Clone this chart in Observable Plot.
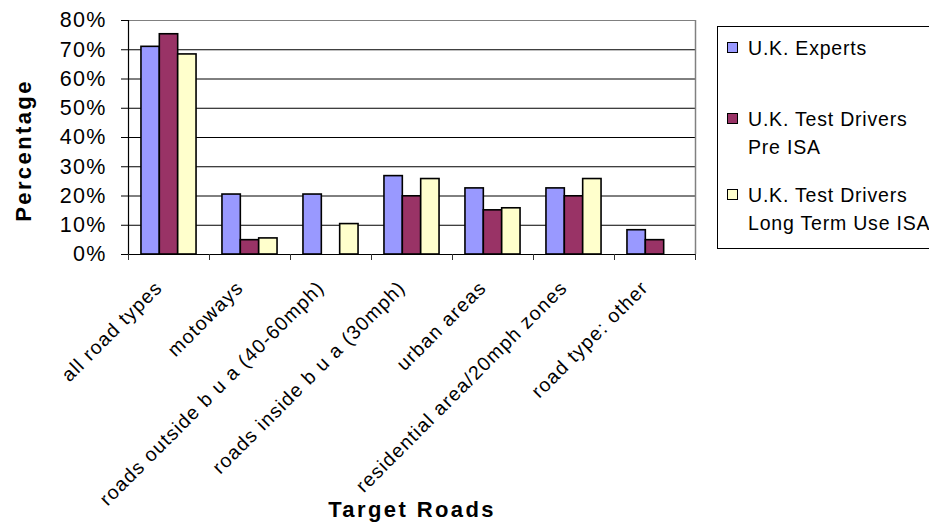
<!DOCTYPE html>
<html>
<head>
<meta charset="utf-8">
<script src="https://cdn.jsdelivr.net/npm/d3@7"></script>
<script src="https://cdn.jsdelivr.net/npm/@observablehq/plot@0.6"></script>
<style>
  html, body { margin: 0; padding: 0; background: #fff; }
  #wrap { position: relative; width: 929px; height: 526px; overflow: hidden;
          font-family: "Liberation Sans", Arial, sans-serif; }
  #legend { position: absolute; left: 717px; top: 26px; width: 240px; height: 221px;
            border: 1px solid #000; background: #fff; }
  .item { position: absolute; left: 9px; font-size: 19.5px; line-height: 28px;
          letter-spacing: 0.8px; color: #000; white-space: nowrap; }
  .swatch { position: absolute; left: 0; top: 8px; width: 9px; height: 9px;
            border: 1px solid #000; }
  .label { display: block; margin-left: 21px; }
  svg text { letter-spacing: 1.2px; }
  svg g[aria-label="text"] text { letter-spacing: 2.4px; }
</style>
</head>
<body>
<div id="wrap">
  <div id="chart"></div>
  <div id="legend"></div>
</div>
<script>
// Road categories along the x axis
const categories = [
  "all road types",
  "motoways",
  "roads outside b u a (40-60mph)",
  "roads inside b u a (30mph)",
  "urban areas",
  "residential area/20mph zones",
  "road type: other"
];

// Series names, as shown in the legend (line breaks as displayed)
const seriesNames = [
  "U.K. Experts",
  "U.K. Test Drivers Pre ISA",
  "U.K. Test Drivers Long Term Use ISA"
];
const legendLines = [
  ["U.K. Experts"],
  ["U.K. Test Drivers", "Pre ISA"],
  ["U.K. Test Drivers", "Long Term Use ISA"]
];

// Percentage of respondents per road type
const experts  = [71.0, 20.5, 20.5, 26.8, 22.6, 22.6, 8.3];
const preISA   = [75.3,  4.9,  0.0, 19.9, 15.1, 19.9, 4.9];
const longTerm = [68.4,  5.5, 10.4, 25.8, 15.8, 25.8, 0.0];

// Y axis ticks (percent)
const yTicks = [0, 10, 20, 30, 40, 50, 60, 70, 80];

const seriesColors = ["#9999FF", "#993366", "#FFFFCC"];

// Long-format table for the bar mark
const seriesValues = [experts, preISA, longTerm];
const rows = seriesValues.flatMap((vals, k) =>
  vals.map((v, i) => ({ i, k, v, name: seriesNames[k] }))
);

// Clustered bars: each category occupies one unit on x, bars share the middle part
const n = categories.length;
const edge = 0.16;                       // free space on each side of a cluster
const bw = (1 - 2 * edge) / seriesNames.length;

const font = '"Liberation Sans", Arial, sans-serif';

const chart = Plot.plot({
  width: 929,
  height: 526,
  marginLeft: 128,
  marginRight: 234,
  marginTop: 20,
  marginBottom: 272,
  style: { fontFamily: font, background: "transparent", overflow: "visible", color: "#000" },
  x: { domain: [0, n], axis: null },
  y: { domain: [0, 80], axis: null },
  color: { domain: seriesNames, range: seriesColors },
  marks: [
    // horizontal gridlines
    Plot.ruleY(yTicks.filter(t => t > 0 && t < 80), { stroke: "#000", strokeWidth: 1 }),
    // plot area border (top and right)
    Plot.ruleY([80], { stroke: "#808080", strokeWidth: 1.2 }),
    Plot.ruleX([n], { y1: 0, y2: 80, stroke: "#808080", strokeWidth: 1.5 }),
    // bars
    Plot.rect(rows.filter(d => d.v > 0), {
      x1: d => d.i + edge + d.k * bw,
      x2: d => d.i + edge + (d.k + 1) * bw,
      y1: 0,
      y2: "v",
      fill: "name",
      stroke: "#000",
      strokeWidth: 1.6
    }),
    // axes lines
    Plot.ruleX([0], { y1: 0, y2: 80, stroke: "#000", strokeWidth: 1.2 }),
    Plot.ruleY([0], { stroke: "#000", strokeWidth: 1.2 }),
    // y axis ticks and labels
    Plot.axisY({
      ticks: yTicks,
      tickSize: 7,
      tickPadding: 15,
      tickFormat: d => d + "%",
      fontSize: 21.5,
      label: null,
      stroke: "#000"
    }),
    // x axis: tick marks at category boundaries
    Plot.axisX({
      ticks: d3.range(0, n + 1),
      tickSize: 6,
      tickFormat: () => "",
      label: null,
      stroke: "#333"
    }),
    // x axis: category labels at cluster centres
    Plot.axisX({
      ticks: categories.map((_, i) => i + 0.5),
      tickSize: 0,
      tickPadding: 24,
      tickRotate: -45,
      tickFormat: t => categories[Math.floor(t)],
      fontSize: 19.5,
      dx: -10,
      dy: 6,
      label: null
    }),
    // axis titles
    Plot.text(["Target Roads"], {
      frameAnchor: "bottom",
      dy: 262,
      text: d => d,
      fontSize: 22,
      fontWeight: "bold",
      fill: "#000"
    }),
    Plot.text(["Percentage"], {
      frameAnchor: "left",
      textAnchor: "middle",
      text: d => d,
      rotate: -90,
      dx: -105,
      dy: 13,
      fontSize: 22,
      fontWeight: "bold",
      fill: "#000"
    })
  ]
});

document.getElementById("chart").appendChild(chart);

// Legend box on the right
const legend = document.getElementById("legend");
const itemTops = [7, 78, 154];
legendLines.forEach((lines, k) => {
  const item = document.createElement("div");
  item.className = "item";
  item.style.top = itemTops[k] + "px";
  const sw = document.createElement("span");
  sw.className = "swatch";
  sw.style.background = seriesColors[k];
  item.appendChild(sw);
  lines.forEach(line => {
    const l = document.createElement("span");
    l.className = "label";
    l.textContent = line;
    item.appendChild(l);
  });
  legend.appendChild(item);
});
</script>
</body>
</html>
